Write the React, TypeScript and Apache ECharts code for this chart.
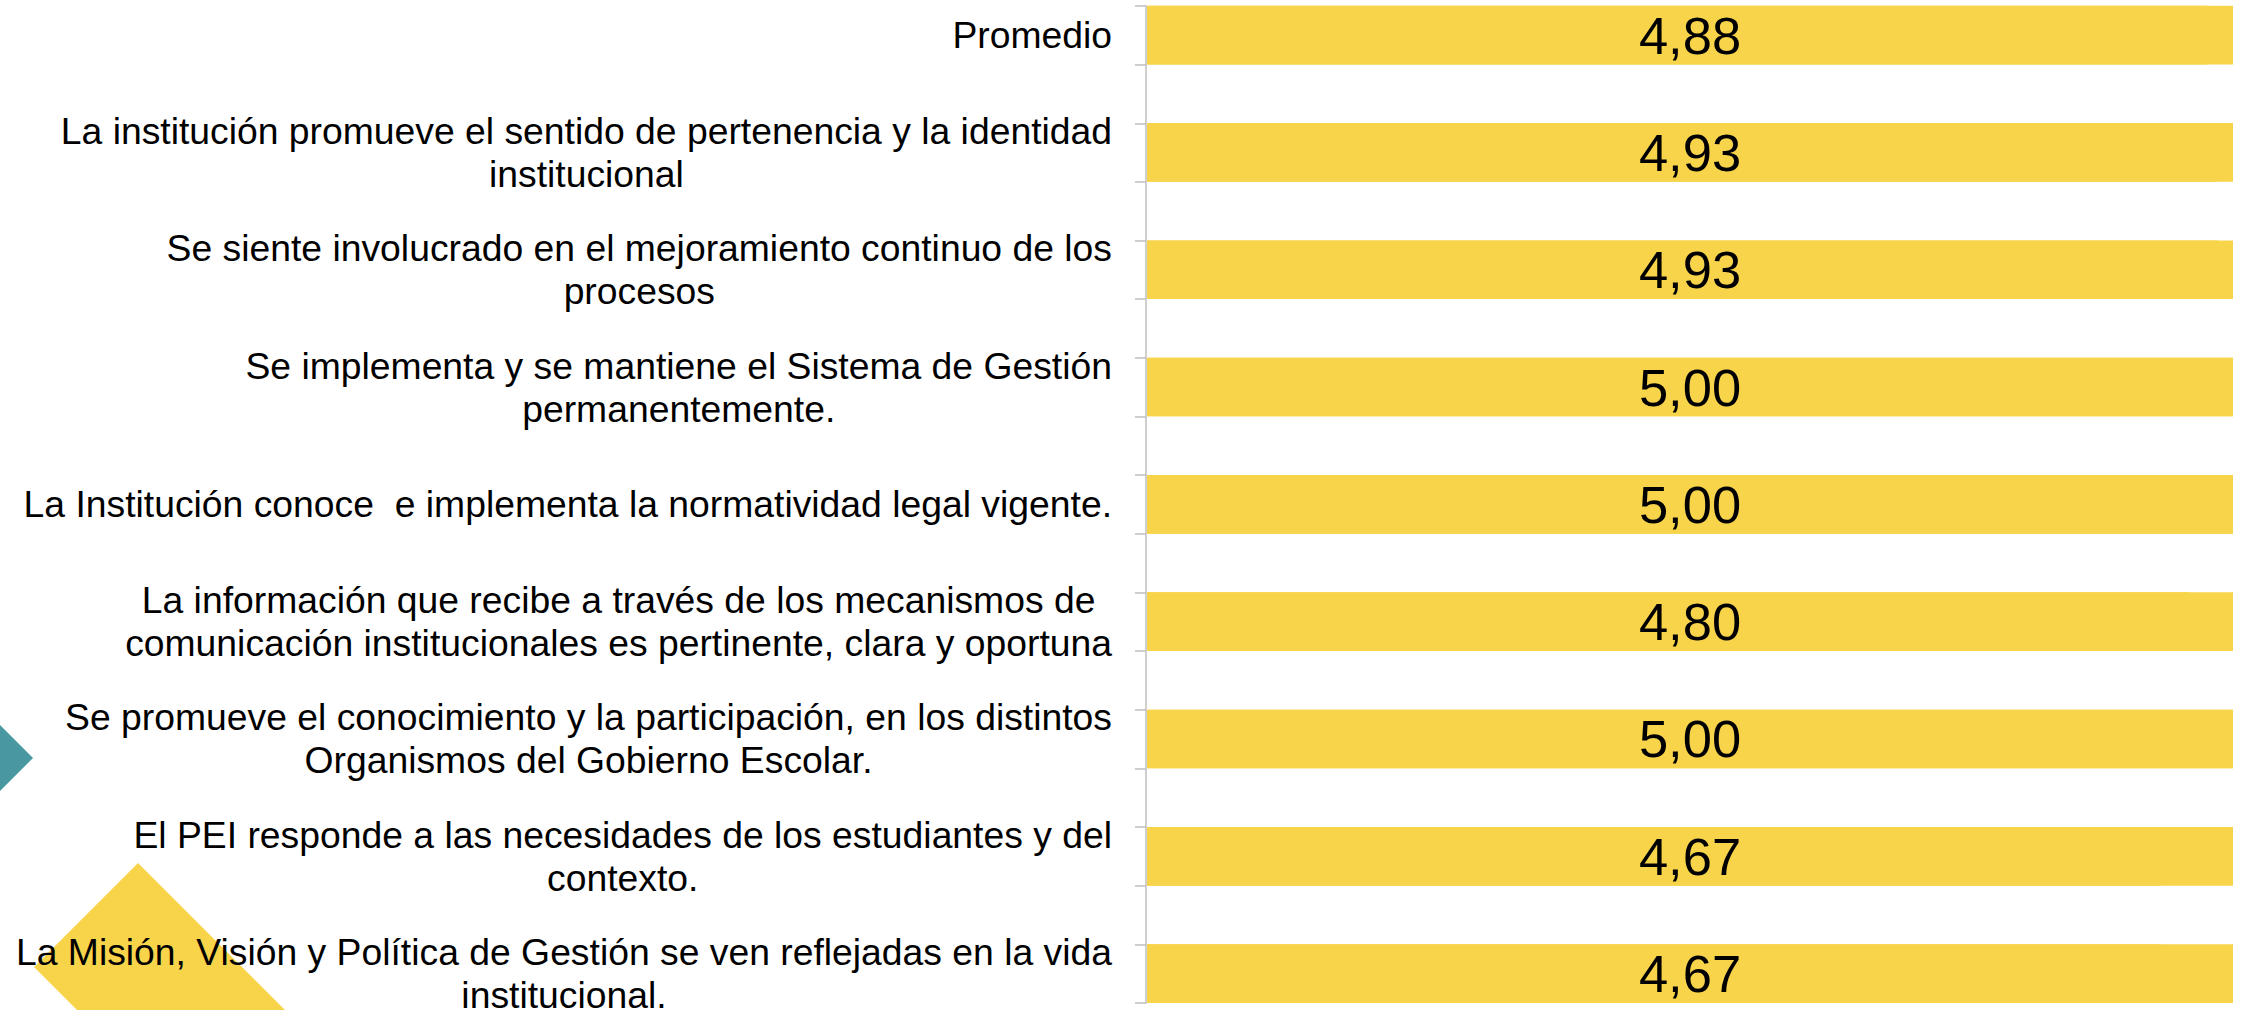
import React, { useEffect, useRef } from "react";
import * as echarts from "echarts";

const categories = [
  "Promedio",
  "La institución promueve el sentido de pertenencia y la identidad\ninstitucional",
  "Se siente involucrado en el mejoramiento continuo de los\nprocesos",
  "Se implementa y se mantiene el Sistema de Gestión\npermanentemente.",
  "La Institución conoce  e implementa la normatividad legal vigente.",
  "La información que recibe a través de los mecanismos de\ncomunicación institucionales es pertinente, clara y oportuna",
  "Se promueve el conocimiento y la participación, en los distintos\nOrganismos del Gobierno Escolar.",
  "El PEI responde a las necesidades de los estudiantes y del\ncontexto.",
  "La Misión, Visión y Política de Gestión se ven reflejadas en la vida\ninstitucional.",
];

const values = [4.88, 4.93, 4.93, 5.0, 5.0, 4.8, 5.0, 4.67, 4.67];

const AXIS_MAX = 5;
const YELLOW = "#F8D44B";
const TEAL = "#4897A1";
const AXIS_GRAY = "#BFBFBF";
const FONT = "Arial, 'Liberation Sans', sans-serif";

export default function App() {
  const ref = useRef<HTMLDivElement>(null);

  useEffect(() => {
    if (!ref.current) return;
    const chart = echarts.init(ref.current, undefined, { renderer: "svg" });

    const option: any = {
      animation: false,
      backgroundColor: "#ffffff",
      graphic: [
        {
          type: "polygon",
          z: 0,
          silent: true,
          shape: { points: [[-12, 713], [33, 758], [-12, 803]] },
          style: { fill: TEAL },
        },
        {
          type: "polygon",
          z: 0,
          silent: true,
          shape: { points: [[138, 863], [34, 967], [184, 1117], [288, 1013]] },
          style: { fill: YELLOW },
        },
      ],
      grid: [
        { left: 1147, right: 9, top: -23.6, bottom: -22.3, outerBoundsMode: "none" },
        { left: 1146, right: 9, top: 6, bottom: 7, outerBoundsMode: "none" },
      ],
      xAxis: [
        { gridIndex: 0, type: "value", min: 0, max: AXIS_MAX, show: false },
        { gridIndex: 1, type: "value", min: 0, max: 1, show: false },
      ],
      yAxis: [
        {
          gridIndex: 0,
          type: "category",
          data: categories,
          inverse: true,
          axisLine: { show: false },
          axisTick: { show: false },
          splitLine: { show: false },
          axisLabel: {
            margin: 35,
            align: "right",
            verticalAlign: "middle",
            formatter: (val: string) =>
              val
                .split("\n")
                .map((l) => `{c|${l}}`)
                .join("\n"),
            rich: {
              c: {
                align: "center",
                fontSize: 37.3,
                lineHeight: 43,
                fontFamily: FONT,
                color: "#000000",
              },
            },
          },
        },
        {
          gridIndex: 1,
          type: "value",
          min: 0,
          max: 17,
          interval: 1,
          axisLine: { show: true, lineStyle: { color: AXIS_GRAY, width: 1.5 } },
          axisTick: { show: true, length: 11, lineStyle: { color: AXIS_GRAY, width: 1.5 } },
          axisLabel: { show: false },
          splitLine: { show: false },
        },
      ],
      series: [
        {
          type: "bar",
          xAxisIndex: 0,
          yAxisIndex: 0,
          barWidth: "50%",
          itemStyle: { color: YELLOW },
          showBackground: true,
          backgroundStyle: { color: YELLOW, opacity: 1 },
          data: values.map((v) => ({
            value: v,
            label: {
              show: true,
              position: [`${((AXIS_MAX / 2) / v) * 100}%`, "50%"],
              align: "center",
              verticalAlign: "middle",
            },
          })),
          label: {
            show: true,
            fontSize: 52.5,
            fontFamily: FONT,
            color: "#000000",
            formatter: (p: any) => Number(p.value).toFixed(2).replace(".", ","),
          },
        },
      ],
    };

    chart.setOption(option);
    return () => chart.dispose();
  }, []);

  return (
    <div
      ref={ref}
      style={{ position: "absolute", left: 0, top: 0, width: 2242, height: 1010 }}
    />
  );
}
